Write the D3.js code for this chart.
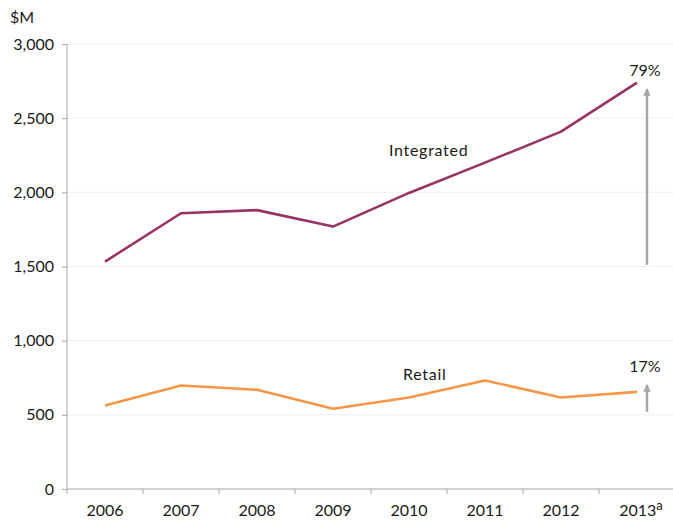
<!DOCTYPE html>
<html>
<head>
<meta charset="utf-8">
<script src="https://cdn.jsdelivr.net/npm/d3@7"></script>
<style>
  html, body { margin: 0; padding: 0; background: #fff; }
  svg text { font-family: Lato, "Open Sans", sans-serif; fill: #1a1a1a; }
</style>
</head>
<body>
<svg id="chart" width="673" height="520"></svg>
<script>
// Annual revenue, $M
const years = ["2006", "2007", "2008", "2009", "2010", "2011", "2012", "2013"];
const integrated = [1533, 1859, 1880, 1769, 1996, 2200, 2409, 2739];
const retail = [563, 698, 669, 541, 617, 732, 617, 655];
const yTicks = [0, 500, 1000, 1500, 2000, 2500, 3000];

// Growth arrows: [from, to] in $M with their labels
const integratedArrow = [1511, 2697];
const retailArrow = [521, 703];
const growthLabels = ["79%", "17%"];

const svg = d3.select("#chart");
const plotLeft = 67, plotRight = 675, plotTop = 44, plotBottom = 489;

const x = d3.scaleBand().domain(years).range([plotLeft, plotRight]).padding(0);
const y = d3.scaleLinear().domain([0, 3000]).range([plotBottom, plotTop]);
const cx = d => x(d) + x.bandwidth() / 2;

// Gridlines
svg.append("g")
  .selectAll("line")
  .data(yTicks.filter(v => v > 0))
  .join("line")
  .attr("x1", plotLeft).attr("x2", plotRight)
  .attr("y1", d => y(d)).attr("y2", d => y(d))
  .attr("stroke", "#eeeeee").attr("stroke-width", 1);

// Y axis
const yAxis = svg.append("g")
  .attr("transform", `translate(${plotLeft},0)`)
  .call(d3.axisLeft(y).tickValues(yTicks).tickFormat(d3.format(",")).tickSize(5).tickPadding(8));
yAxis.select(".domain").attr("stroke", "#a6a6a6").attr("d", `M0,${plotBottom}V${plotTop}`);
yAxis.selectAll(".tick line").attr("stroke", "#a6a6a6");
yAxis.selectAll(".tick text").attr("font-size", 16).attr("fill", "#1a1a1a")
  .attr("font-family", "Lato, 'Open Sans', sans-serif");

// X axis with ticks at category boundaries
const xAxis = svg.append("g").attr("transform", `translate(0,${plotBottom})`);
xAxis.append("line")
  .attr("x1", plotLeft).attr("x2", plotRight)
  .attr("stroke", "#a6a6a6");
xAxis.selectAll("line.bound")
  .data(years.concat(["end"]))
  .join("line")
  .attr("class", "bound")
  .attr("x1", (d, i) => plotLeft + i * x.bandwidth())
  .attr("x2", (d, i) => plotLeft + i * x.bandwidth())
  .attr("y1", 0).attr("y2", 5)
  .attr("stroke", "#a6a6a6");
const xl = xAxis.selectAll("text.year")
  .data(years)
  .join("text")
  .attr("class", "year")
  .attr("x", d => cx(d))
  .attr("y", 27)
  .attr("text-anchor", "middle")
  .attr("font-size", 16);
xl.append("tspan").text(d => d);
xl.filter(d => d === "2013")
  .attr("x", d => cx(d) + 4)
  .append("tspan")
  .attr("dy", -6)
  .attr("font-size", 13)
  .text("a");

// Unit label
svg.append("text").attr("x", 10).attr("y", 23).attr("font-size", 16).text("$M");

// Series lines
const line = d3.line().x((d, i) => cx(years[i])).y(d => y(d));
svg.append("path").datum(integrated).attr("d", line)
  .attr("fill", "none").attr("stroke", "#993366").attr("stroke-width", 2.6)
  .attr("stroke-linejoin", "round");
svg.append("path").datum(retail).attr("d", line)
  .attr("fill", "none").attr("stroke", "#f79646").attr("stroke-width", 2.6)
  .attr("stroke-linejoin", "round");

// Series labels
svg.append("text").attr("x", 389).attr("y", 156).attr("font-size", 16)
  .attr("letter-spacing", 0.7).text("Integrated");
svg.append("text").attr("x", 403).attr("y", 380).attr("font-size", 16)
  .attr("letter-spacing", 0.7).text("Retail");

// Growth arrows
const defs = svg.append("defs");
defs.append("marker")
  .attr("id", "head")
  .attr("viewBox", "0 0 10 10")
  .attr("refX", 9).attr("refY", 5)
  .attr("markerWidth", 3.2).attr("markerHeight", 3.2)
  .attr("markerUnits", "strokeWidth")
  .attr("orient", "auto")
  .append("path").attr("d", "M0,0L10,5L0,10Z").attr("fill", "#a6a6a6");

const ax = cx("2013") + 10;
[integratedArrow, retailArrow].forEach((a, i) => {
  svg.append("line")
    .attr("x1", ax).attr("x2", ax)
    .attr("y1", y(a[0])).attr("y2", y(a[1]))
    .attr("stroke", "#a6a6a6").attr("stroke-width", 2.4)
    .attr("marker-end", "url(#head)");
  svg.append("text")
    .attr("x", ax - 2).attr("y", y(a[1]) - 13)
    .attr("text-anchor", "middle").attr("font-size", 16)
    .text(growthLabels[i]);
});
</script>
</body>
</html>
